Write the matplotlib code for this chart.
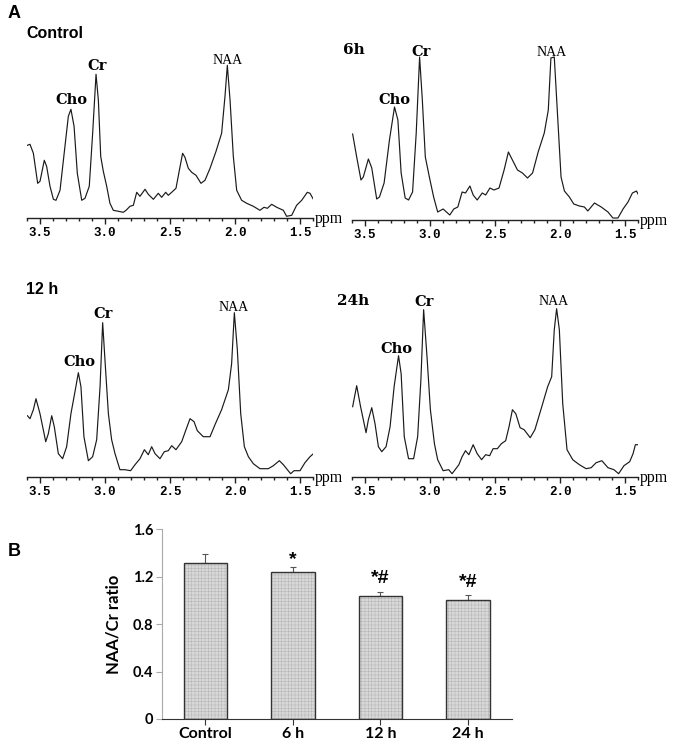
import numpy as np
import matplotlib.pyplot as plt
from matplotlib.transforms import blended_transform_factory

W_PX, H_PX = 677, 744

# ---- MRS spectra: (ppm, height above baseline in px) ----
ctrl_ppm = [3.597, 3.577, 3.551, 3.518, 3.500, 3.467, 3.449, 3.423, 3.397, 3.377, 3.346, 3.308,
            3.282, 3.262, 3.238, 3.213, 3.179, 3.154, 3.121, 3.095, 3.069, 3.051, 3.033, 3.013,
            2.987, 2.962, 2.936, 2.897, 2.859, 2.838, 2.808, 2.782, 2.756, 2.731, 2.692, 2.667,
            2.628, 2.590, 2.564, 2.533, 2.513, 2.487, 2.454, 2.428, 2.403, 2.385, 2.359, 2.333,
            2.300, 2.262, 2.231, 2.192, 2.146, 2.103, 2.077, 2.059, 2.038, 2.013, 1.987, 1.949,
            1.910, 1.859, 1.808, 1.777, 1.751, 1.718, 1.679, 1.628, 1.603, 1.564, 1.526, 1.487,
            1.444, 1.423, 1.397]
ctrl_h = [73, 74, 65, 35, 37, 58, 52, 32, 19, 18, 28, 72,
          102, 109, 92, 45, 18, 20, 32, 85, 144, 118, 62, 47,
          32, 15, 8, 7, 6, 8, 12, 13, 26, 22, 29, 24,
          19, 25, 21, 26, 23, 26, 30, 48, 65, 61, 50, 46,
          43, 35, 38, 50, 67, 85, 122, 153, 118, 62, 28, 18,
          15, 12, 8, 11, 10, 14, 11, 8, 2, 3, 13, 18,
          26, 25, 19]

h6_ppm = [3.595, 3.564, 3.531, 3.513, 3.474, 3.448, 3.410, 3.389, 3.353, 3.312, 3.273, 3.247,
          3.222, 3.191, 3.165, 3.134, 3.106, 3.080, 3.059, 3.036, 3.005, 2.972, 2.941, 2.899,
          2.848, 2.817, 2.786, 2.753, 2.727, 2.693, 2.668, 2.637, 2.598, 2.572, 2.539, 2.508,
          2.469, 2.430, 2.397, 2.366, 2.327, 2.289, 2.250, 2.211, 2.168, 2.121, 2.090, 2.070,
          2.044, 2.018, 1.992, 1.966, 1.928, 1.894, 1.851, 1.812, 1.786, 1.735, 1.683, 1.631,
          1.593, 1.554, 1.515, 1.477, 1.443, 1.412, 1.387]
h6_h = [86, 63, 40, 43, 61, 52, 21, 23, 37, 80, 113, 100,
        47, 22, 20, 28, 87, 163, 120, 63, 43, 23, 8, 11,
        5, 11, 13, 28, 27, 34, 25, 20, 27, 25, 32, 30,
        32, 50, 68, 60, 50, 47, 42, 47, 68, 87, 110, 162,
        163, 103, 43, 29, 23, 16, 14, 13, 9, 17, 13, 8,
        2, 2, 11, 18, 27, 29, 23]

h12_ppm = [3.597, 3.577, 3.551, 3.531, 3.500, 3.456, 3.436, 3.410, 3.390, 3.359, 3.326, 3.295,
           3.262, 3.231, 3.205, 3.185, 3.162, 3.128, 3.095, 3.064, 3.038, 3.018, 2.997, 2.974,
           2.949, 2.923, 2.885, 2.846, 2.803, 2.769, 2.731, 2.697, 2.667, 2.641, 2.615, 2.577,
           2.544, 2.513, 2.487, 2.454, 2.410, 2.377, 2.346, 2.315, 2.290, 2.244, 2.192, 2.154,
           2.103, 2.051, 2.026, 2.005, 1.982, 1.956, 1.928, 1.897, 1.859, 1.808, 1.744, 1.705,
           1.659, 1.628, 1.597, 1.572, 1.546, 1.500, 1.462, 1.423, 1.397]
h12_h = [61, 58, 67, 78, 63, 35, 43, 61, 50, 23, 18, 30,
         63, 85, 104, 90, 40, 16, 20, 37, 90, 154, 110, 63,
         37, 23, 7, 7, 6, 12, 18, 27, 22, 30, 23, 18,
         25, 26, 31, 27, 35, 47, 58, 55, 46, 40, 40, 52,
         67, 87, 113, 164, 127, 63, 30, 20, 13, 8, 8, 11,
         16, 12, 7, 3, 6, 6, 14, 20, 23]

h24_ppm = [3.595, 3.564, 3.534, 3.492, 3.474, 3.448, 3.423, 3.397, 3.371, 3.338, 3.307, 3.276,
           3.242, 3.222, 3.198, 3.165, 3.126, 3.095, 3.070, 3.049, 3.023, 2.997, 2.966, 2.941,
           2.899, 2.856, 2.830, 2.778, 2.753, 2.727, 2.701, 2.668, 2.637, 2.603, 2.572, 2.541,
           2.515, 2.482, 2.451, 2.418, 2.392, 2.366, 2.340, 2.307, 2.276, 2.229, 2.193, 2.147,
           2.095, 2.064, 2.044, 2.026, 2.005, 1.979, 1.946, 1.902, 1.851, 1.799, 1.760, 1.722,
           1.678, 1.631, 1.585, 1.549, 1.508, 1.464, 1.438, 1.420, 1.387]
h24_h = [70, 91, 70, 44, 57, 69, 53, 30, 25, 30, 50, 90,
         121, 103, 40, 18, 18, 40, 97, 167, 120, 67, 33, 17,
         6, 7, 3, 12, 20, 26, 22, 32, 23, 17, 22, 21,
         28, 28, 33, 36, 50, 67, 63, 49, 47, 39, 47, 67,
         90, 100, 147, 168, 147, 73, 27, 17, 12, 8, 9, 14,
         16, 9, 7, 3, 11, 15, 23, 32, 32]

panel_names = ["Control", "6h", "12 h", "24h"]
peak_names = ["Cho", "Cr", "NAA"]
# label anchor (ppm, height) for each panel
peak_ppm = [[3.26, 3.064, 2.056], [3.276, 3.07, 2.064], [3.20, 3.013, 2.013], [3.255, 3.044, 2.049]]
peak_lab_h = [[118, 152, 158], [120, 168, 168], [115, 163, 169], [128, 175, 175]]

ppm_ticks = [3.5, 3.0, 2.5, 2.0, 1.5]

# ---- NAA/Cr ratio bars ----
groups = ["Control", "6 h", "12 h", "24 h"]
ratio = [1.313, 1.237, 1.037, 1.003]
ratio_err = [0.076, 0.042, 0.034, 0.040]
marks = ["", "*", "*#", "*#"]


def px_axes(fig, x0, y_bottom, w, h):
    return fig.add_axes([x0 / W_PX, 1 - y_bottom / H_PX, w / W_PX, h / H_PX])


fig = plt.figure(figsize=(W_PX / 100, H_PX / 100), dpi=100)

spectra = [(ctrl_ppm, ctrl_h), (h6_ppm, h6_h), (h12_ppm, h12_h), (h24_ppm, h24_h)]
# (left px, axis-line px from top)
spots = [(27, 218.3), (352, 220), (27, 476.7), (352, 476.7)]
title_pos = [(26, 33), (343, 50), (26, 290), (337, 301)]

for i, (ppm, h) in enumerate(spectra):
    x0, yb = spots[i]
    ax = px_axes(fig, x0, yb, 286, 200)
    ax.plot(ppm, h, color='#1a1a1a', linewidth=0.85)
    ax.set_xlim(3.6, 1.4)
    ax.set_ylim(0, 200)
    for s in ['left', 'right', 'top']:
        ax.spines[s].set_visible(False)
    ax.spines['bottom'].set_linewidth(1.0)
    ax.spines['bottom'].set_color('#222222')
    ax.set_yticks([])
    ax.set_xticks(ppm_ticks)
    ax.set_xticks(np.arange(1.4, 3.61, 0.1), minor=True)
    ax.set_xticklabels(["%.1f" % t for t in ppm_ticks], family='Liberation Mono',
                       fontweight='bold', fontsize=9)
    ax.tick_params(axis='x', which='major', length=4, width=1.0, pad=2.5, color='#222222')
    ax.tick_params(axis='x', which='minor', length=2, width=1.0, color='#222222')
    ax.patch.set_visible(False)

    tr = blended_transform_factory(ax.transAxes, ax.transData)
    ax.text(1.008, -5, "ppm", transform=tr, family='Liberation Serif', fontsize=11.5,
            va='baseline', ha='left', clip_on=False)

    for j, name in enumerate(peak_names):
        if name == "NAA":
            ax.text(peak_ppm[i][j], peak_lab_h[i][j], name, family='Liberation Serif',
                    fontsize=10, ha='center', va='center')
        else:
            ax.text(peak_ppm[i][j], peak_lab_h[i][j], name, family='DejaVu Serif',
                    fontweight='bold', fontsize=10.5, ha='center', va='center')

    tx, ty = title_pos[i]
    if i in (1, 3):
        fig.text(tx / W_PX, 1 - ty / H_PX, panel_names[i], family='DejaVu Serif',
                 fontweight='bold', fontsize=11, va='center', ha='left')
    else:
        fig.text(tx / W_PX, 1 - ty / H_PX, panel_names[i], family='Liberation Sans',
                 fontweight='bold', fontsize=11.5, va='center', ha='left')

fig.text(8 / W_PX, 1 - 13 / H_PX, "A", family='Liberation Sans', fontweight='bold',
         fontsize=13, va='center', ha='left')
fig.text(8 / W_PX, 1 - 551 / H_PX, "B", family='Liberation Sans', fontweight='bold',
         fontsize=13, va='center', ha='left')

# ---- panel B ----
plt.rcParams['hatch.linewidth'] = 0.35
bx = px_axes(fig, 161.7, 719, 350, 189.7)
xpos = np.arange(len(groups))
bx.bar(xpos, ratio, width=0.5, color='#d8d8d8', edgecolor='#b4b4b4', hatch='+++++',
       linewidth=0, zorder=2)
bx.bar(xpos, ratio, width=0.5, fill=False, edgecolor='#333333', linewidth=1.0, zorder=3)
bx.errorbar(xpos, ratio, yerr=[np.zeros(len(ratio)), ratio_err], fmt='none',
            ecolor='#555555', elinewidth=0.8, capsize=2.5, capthick=0.8, zorder=1)
for k, m in enumerate(marks):
    if m:
        off = 0.04 if '#' in m else -0.005
        bx.text(xpos[k], ratio[k] + ratio_err[k] + off, m, family='Liberation Sans',
                fontweight='bold', fontsize=14, ha='center', va='bottom')
bx.set_xlim(-0.5, 3.5)
bx.set_ylim(0, 1.6)
bx.set_yticks([0, 0.4, 0.8, 1.2, 1.6])
bx.set_yticklabels(["0", "0.4", "0.8", "1.2", "1.6"], family='Lato', fontweight='bold',
                   fontsize=10.5)
bx.set_xticks(xpos)
bx.set_xticklabels(groups, family='Lato', fontweight='bold', fontsize=11.5)
bx.set_ylabel("NAA/Cr ratio", family='Lato', fontweight='bold', fontsize=12, labelpad=8)
bx.spines['top'].set_visible(False)
bx.spines['right'].set_visible(False)
bx.spines['left'].set_color('#aaaaaa')
bx.spines['bottom'].set_color('#333333')
bx.tick_params(axis='y', length=4, color='#aaaaaa', pad=2)
bx.tick_params(axis='x', length=4, color='#333333', pad=2)

fig.savefig("out.png", dpi=100)
